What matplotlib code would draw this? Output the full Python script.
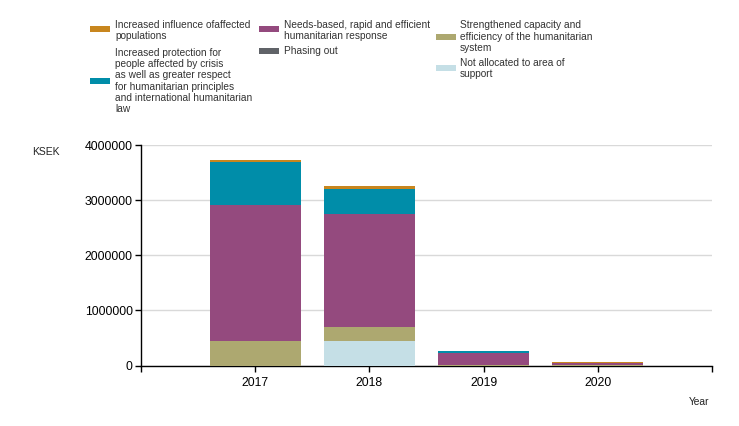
import matplotlib
matplotlib.use("Agg")
import matplotlib.pyplot as plt
from matplotlib.patches import Rectangle
import numpy as np

plt.rcParams['font.family'] = ['Liberation Sans', 'DejaVu Sans']

years = ['2017', '2018', '2019', '2020']

# KSEK values per area of support
not_allocated = [0, 450000, 0, 0]
strengthened = [445000, 254000, 18000, 2000]
phasing_out = [0, 0, 0, 0]
needs_based = [2470000, 2047000, 200000, 50000]
protection = [781000, 454000, 38000, 0]
influence = [36000, 60000, 10000, 6000]

labels = {
    'influence': 'Increased influence ofaffected\npopulations',
    'protection': 'Increased protection for\npeople affected by crisis\nas well as greater respect\nfor humanitarian principles\nand international humanitarian\nlaw',
    'needs': 'Needs-based, rapid and efficient\nhumanitarian response',
    'phasing': 'Phasing out',
    'strengthened': 'Strengthened capacity and\nefficiency of the humanitarian\nsystem',
    'not_alloc': 'Not allocated to area of\nsupport',
}
colors = {
    'influence': '#C8861E',
    'protection': '#008DA9',
    'needs': '#944A7E',
    'phasing': '#606368',
    'strengthened': '#ADA870',
    'not_alloc': '#C5DFE6',
}

stack = [
    ('not_alloc', not_allocated),
    ('strengthened', strengthened),
    ('phasing', phasing_out),
    ('needs', needs_based),
    ('protection', protection),
    ('influence', influence),
]

W, H = 739, 426
fig = plt.figure(figsize=(W / 100, H / 100), dpi=100)
ax = fig.add_axes([141 / W, 1 - 365.5 / H, (712 - 141) / W, (365.5 - 145.3) / H])

x = np.arange(len(years))
bottom = np.zeros(len(years))
for key, vals in stack:
    v = np.array(vals, dtype=float)
    ax.bar(x, v, width=0.8, bottom=bottom, color=colors[key], linewidth=0, zorder=3)
    bottom += v

ax.set_xlim(-1, 4)
ax.set_ylim(0, 4000000)
ax.set_yticks([0, 1000000, 2000000, 3000000, 4000000])
ax.set_yticklabels(['0', '1000000', '2000000', '3000000', '4000000'])
ax.set_xticks(x)
ax.set_xticklabels(years)
ax.set_xticks([-1, 4], minor=True)
ax.tick_params(axis='x', which='both', length=4, width=1, color='black', labelsize=8.8, pad=4)
ax.tick_params(axis='y', length=4, width=1, color='black', labelsize=8.8, pad=2)
ax.grid(axis='y', color='#D9D9D9', linewidth=1, zorder=0)
for s in ['top', 'right']:
    ax.spines[s].set_visible(False)
for s in ['left', 'bottom']:
    ax.spines[s].set_color('black')
    ax.spines[s].set_linewidth(1)

fig.text(32 / W, 1 - 152.3 / H, 'KSEK', fontsize=7.5, ha='left', va='center', color='#222222')
fig.text(709 / W, 1 - 401.7 / H, 'Year', fontsize=7.4, ha='right', va='center', color='#222222')

# legend laid out in three columns
legend_items = [
    ('influence', 90, 115, 29.3, 30.5),
    ('protection', 90, 115, 81, 81),
    ('needs', 259, 284, 29.3, 30.7),
    ('phasing', 259, 284, 50.7, 50.7),
    ('strengthened', 436, 460, 37.3, 36.8),
    ('not_alloc', 436, 460, 68.3, 68.8),
]
for key, px, tx, py, ty in legend_items:
    fig.add_artist(Rectangle((px / W, 1 - (py + 3) / H), 20 / W, 6 / H,
                             transform=fig.transFigure, color=colors[key], linewidth=0))
    fig.text(tx / W, 1 - ty / H, labels[key], fontsize=7.3, ha='left', va='center',
             linespacing=1.17, color='#333333')

fig.savefig('out.png', dpi=100)
